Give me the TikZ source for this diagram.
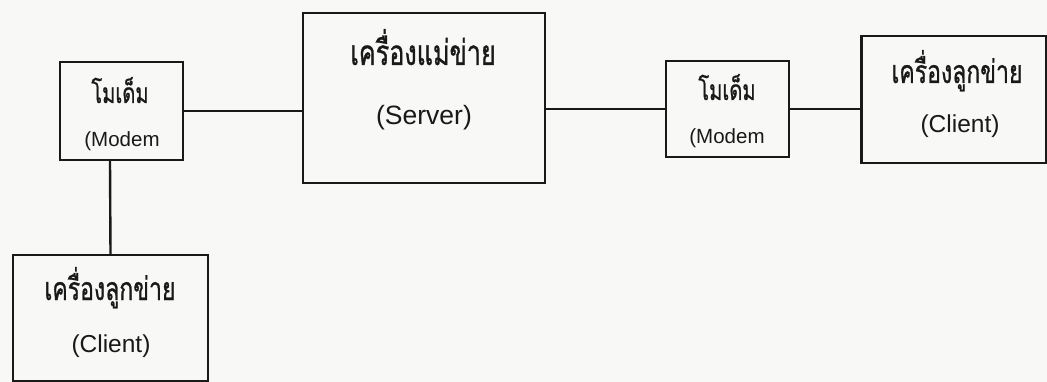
\documentclass[tikz,border=0pt]{standalone}
\usepackage{fontspec}
\setmainfont{Liberation Sans}
\newfontfamily\thaifont[Script=Thai,FakeStretch=0.72,FakeBold=0.8]{Loma}
\definecolor{ink}{RGB}{25,25,25}
\definecolor{paper}{RGB}{248,248,246}
\begin{document}
\begin{tikzpicture}[x=1pt,y=-1pt,
  box/.style={draw=ink,line width=2.4pt,inner sep=0pt},
  link/.style={draw=ink,line width=2.4pt},
  txt/.style={text=ink,inner sep=0pt,anchor=base}]
\fill[paper] (0,0) rectangle (1047,382);
\useasboundingbox (0,0) rectangle (1047,382);
% boxes
\node[box,minimum width=123pt,minimum height=98pt] (m1) at (121.5,111) {};
\node[box,minimum width=242pt,minimum height=170pt] (srv) at (424,98) {};
\node[box,minimum width=123pt,minimum height=96pt] (m2) at (727.5,109) {};
\node[box,minimum width=185pt,minimum height=127pt] (c1) at (954,99.5) {};
\node[box,minimum width=195pt,minimum height=126pt] (c2) at (110.5,318) {};
% texts
\node[txt,font=\thaifont\fontsize{28}{30}\selectfont] (m1a) at (120,103) {โมเด็ม};
\node[txt,font=\fontsize{20.5}{24}\selectfont] (m1b) at (122,147) {(Modem};
\node[txt,font=\thaifont\fontsize{35}{40}\selectfont] (sa) at (423,65) {เครื่องแม่ข่าย};
\node[txt,font=\fontsize{26.5}{30}\selectfont] (sb) at (424,125) {(Server)};
\node[txt,font=\thaifont\fontsize{28}{30}\selectfont] (m2a) at (727,100) {โมเด็ม};
\node[txt,font=\fontsize{20.5}{24}\selectfont] (m2b) at (727,144) {(Modem};
\node[txt,font=\thaifont\fontsize{32}{36}\selectfont] (c1a) at (957,83) {เครื่องลูกข่าย};
\node[txt,font=\fontsize{24.5}{28}\selectfont] (c1b) at (960,133) {(Client)};
\node[txt,font=\thaifont\fontsize{32}{36}\selectfont] (c2a) at (110,300) {เครื่องลูกข่าย};
\node[txt,font=\fontsize{24.5}{28}\selectfont] (c2b) at (111,352) {(Client)};
% connectors
\draw[link] (m1.east) -- (m1.east -| srv.west);
\draw[link] (srv.east |- m2.west) -- (m2.west);
\draw[link] (m2.east) -- (m2.east -| c1.west);
\draw[link] (m1.south -| 110,0) -- (c2.north);
\end{tikzpicture}
\end{document}
